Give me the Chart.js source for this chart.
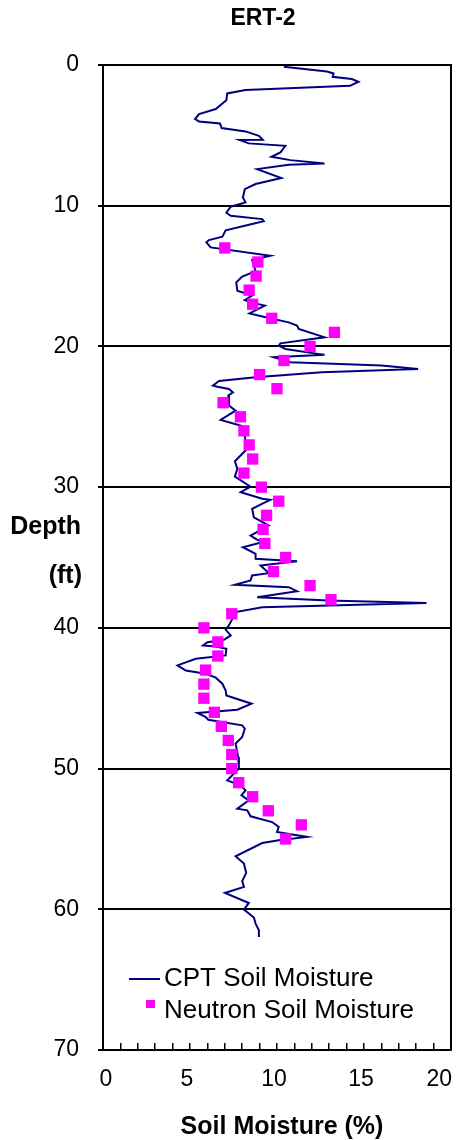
<!DOCTYPE html>
<html>
<head>
<meta charset="utf-8">
<script src="https://cdn.jsdelivr.net/npm/chart.js@4.4.1/dist/chart.umd.min.js"></script>
<style>
  html, body { margin: 0; padding: 0; background: #fff; overflow: hidden; }
  canvas { display: block; }
</style>
</head>
<body>
<canvas id="c" width="459" height="1140"></canvas>
<script>
// ---- data ----
const chartTitle = "ERT-2";
const xAxisTitle = "Soil Moisture (%)";
const yAxisTitle = ["Depth", "(ft)"];
const xTickLabels = [0, 5, 10, 15, 20];
const depthTickStep = 10;

const cptLabel = "CPT Soil Moisture";
const cptMoisture = [10.39,12.87,13.25,13.2,14.3,14.68,14.2,8.19,7.14,7.09,6.48,5.52,5.29,5.52,6.72,6.82,8.19,8.96,9.18,7.85,8.38,10.48,10.2,9.68,10.77,12.73,10.67,8.86,10.25,8.77,8.15,8.04,8.19,7.34,7.09,7.34,9.15,9.24,8.57,7.05,6.86,6.09,5.94,6.19,9.62,8.57,8.67,8.77,8.0,7.66,7.72,8.57,8.15,8.48,9.3,8.42,9.53,10.67,11.15,11.25,12.73,10.2,10.1,10.48,12.73,9.81,10.77,16.01,18.11,12.58,8.77,6.67,6.32,6.57,7.24,7.47,7.2,7.24,7.62,6.76,8.1,8.19,8.19,7.58,7.72,7.58,8.48,7.91,9.15,9.62,9.34,8.57,8.67,9.53,8.48,8.77,9.15,8.04,8.77,8.77,11.15,9.05,9.53,8.57,8.48,7.58,10.67,11.15,8.86,12.96,18.59,9.15,7.62,7.39,7.2,7.05,7.34,6.95,6.0,5.75,6.48,7.09,7.05,5.33,4.28,4.76,5.91,6.48,6.86,7.05,7.09,8.54,7.72,5.43,5.91,6.05,8.0,8.15,8.0,7.62,7.77,7.81,7.14,7.91,8.19,7.96,8.38,7.72,8.29,8.48,9.72,10.1,10.0,11.72,10.1,9.15,7.62,8.1,8.23,8.0,8.1,7.01,8.38,8.1,8.67,8.77,8.96,8.96];
const cptDepth = [0.13,0.46,0.6,0.84,1.0,1.19,1.48,1.78,2.02,2.5,3.13,3.49,3.84,4.01,4.15,4.48,4.72,5.03,5.31,5.33,5.57,5.74,6.21,6.52,6.76,7.0,7.09,7.4,8.03,8.46,8.82,9.41,9.77,10.07,10.5,10.71,10.95,11.1,11.3,11.75,12.2,12.44,12.6,12.96,13.55,13.86,14.26,14.66,15.04,15.45,16.04,16.39,16.7,16.87,17.1,17.65,17.98,18.29,18.52,18.76,19.35,19.78,19.94,20.18,20.6,20.77,21.13,21.36,21.6,21.84,22.19,22.45,22.78,22.86,23.02,23.26,23.49,24.2,24.56,25.22,25.7,26.81,27.4,28.16,28.7,29.25,29.96,30.36,30.83,30.9,31.07,31.54,32.14,32.73,33.44,33.67,33.91,34.27,34.74,35.09,35.26,35.57,36.11,36.28,36.63,36.94,37.11,37.39,37.82,38.05,38.24,38.53,38.88,39.47,39.9,40.14,40.54,40.85,41.02,41.25,41.32,41.49,41.96,42.2,42.67,43.03,43.26,43.54,43.97,44.45,44.8,45.39,45.82,46.05,46.34,46.53,46.93,47.17,47.76,48.23,49.18,50.0,50.84,51.19,51.55,51.9,52.26,52.85,52.97,53.39,53.8,54.15,54.51,54.86,55.1,55.29,56.23,56.75,57.42,58.0,58.41,58.84,59.55,60.02,60.59,61.02,61.49,61.97];

const neutronLabel = "Neutron Soil Moisture";
const neutronDepth = [13,14,15,16,17,18,19,20,21,22,23,24,25,26,27,28,29,30,31,32,33,34,35,36,37,38,39,40,41,42,43,44,45,46,47,48,49,50,51,52,53,54,55];
const neutronMoisture = [7.0,8.9,8.8,8.4,8.6,9.7,13.3,11.9,10.4,9.0,10.0,6.9,7.9,8.1,8.4,8.6,8.1,9.1,10.1,9.4,9.2,9.3,10.5,9.8,11.9,13.1,7.4,5.8,6.6,6.6,5.9,5.8,5.8,6.4,6.8,7.2,7.4,7.4,7.8,8.6,9.5,11.4,10.5];

// ---- build ----
const cptPoints = cptMoisture.map((v, i) => ({ x: v, y: cptDepth[i] }));
const neutronPoints = neutronMoisture.map((v, i) => ({ x: v, y: neutronDepth[i] }));

const FONT = "'Liberation Sans', Arial, Helvetica, sans-serif";

const decorPlugin = {
  id: 'decor',
  afterDraw(chart) {
    const ctx = chart.ctx;
    const a = chart.chartArea;
    const xs = chart.scales.x;
    ctx.save();
    // plot frame (top and right)
    ctx.strokeStyle = '#000';
    ctx.lineWidth = 2;
    ctx.beginPath();
    ctx.moveTo(a.left, a.top);
    ctx.lineTo(a.right, a.top);
    ctx.lineTo(a.right, a.bottom);
    ctx.stroke();

    ctx.fillStyle = '#000';
    // title
    ctx.font = "bold 23px " + FONT;
    ctx.textAlign = 'center';
    ctx.textBaseline = 'middle';
    ctx.fillText(chartTitle, 263, 19);

    // y axis title (horizontal, two lines)
    ctx.font = "bold 25px " + FONT;
    ctx.textAlign = 'right';
    ctx.fillText(yAxisTitle[0], 81, 527);
    ctx.fillText(yAxisTitle[1], 82, 576);

    // x tick labels
    ctx.font = "23px " + FONT;
    xTickLabels.forEach((v, i) => {
      const px = xs.getPixelForValue(v);
      if (i === xTickLabels.length - 1) {
        ctx.textAlign = 'right';
        ctx.fillText(String(v), px + 1, 1080);
      } else if (i === 0) {
        ctx.textAlign = 'center';
        ctx.fillText(String(v), px + 3, 1080);
      } else {
        ctx.textAlign = 'center';
        ctx.fillText(String(v), px - 3, 1080);
      }
    });

    // x axis title
    ctx.font = "bold 25px " + FONT;
    ctx.textAlign = 'center';
    ctx.fillText(xAxisTitle, 282, 1127);

    // legend
    const dsLine = chart.data.datasets[1];
    const dsPts = chart.data.datasets[0];
    ctx.strokeStyle = dsLine.borderColor;
    ctx.lineWidth = 2;
    ctx.beginPath();
    ctx.moveTo(129, 979);
    ctx.lineTo(160, 979);
    ctx.stroke();
    ctx.fillStyle = dsPts.pointBackgroundColor;
    ctx.fillRect(146, 1000, 9, 8);
    ctx.fillStyle = '#000';
    ctx.font = "26px " + FONT;
    ctx.textAlign = 'left';
    ctx.fillText(dsLine.label, 164, 979);
    ctx.fillText(dsPts.label, 164, 1011);
    ctx.restore();
  }
};

new Chart(document.getElementById('c'), {
  type: 'scatter',
  data: {
    datasets: [
      {
        label: neutronLabel,
        data: neutronPoints,
        showLine: false,
        pointStyle: 'rect',
        pointRadius: 8,
        pointBackgroundColor: '#FF00FF',
        pointBorderColor: '#FF00FF',
        pointBorderWidth: 0,
        order: 0
      },
      {
        label: cptLabel,
        data: cptPoints,
        showLine: true,
        borderColor: '#000080',
        borderWidth: 2,
        pointRadius: 0,
        tension: 0,
        order: 1
      }
    ]
  },
  options: {
    responsive: false,
    devicePixelRatio: 1,
    animation: false,
    layout: { padding: { top: 65, right: 6, bottom: 0, left: 0 } },
    plugins: {
      legend: { display: false },
      tooltip: { enabled: false },
      title: { display: false }
    },
    scales: {
      x: {
        type: 'linear',
        position: 'bottom',
        min: 0,
        max: 20,
        ticks: { stepSize: 1, display: false },
        grid: { drawOnChartArea: false, drawTicks: true, tickLength: -7, color: '#000', lineWidth: 1.5 },
        border: { display: true, color: '#000', width: 2 },
        afterFit(s) { s.height = 90; }
      },
      y: {
        type: 'linear',
        reverse: true,
        min: 0,
        max: 70,
        ticks: {
          stepSize: depthTickStep,
          color: '#000',
          padding: 19,
          font: { family: FONT, size: 23 }
        },
        grid: { color: '#000', lineWidth: 2, tickLength: 5, drawTicks: true },
        border: { display: true, color: '#000', width: 2 },
        afterFit(s) { s.width = 103; }
      }
    }
  },
  plugins: [decorPlugin]
});
</script>
</body>
</html>
